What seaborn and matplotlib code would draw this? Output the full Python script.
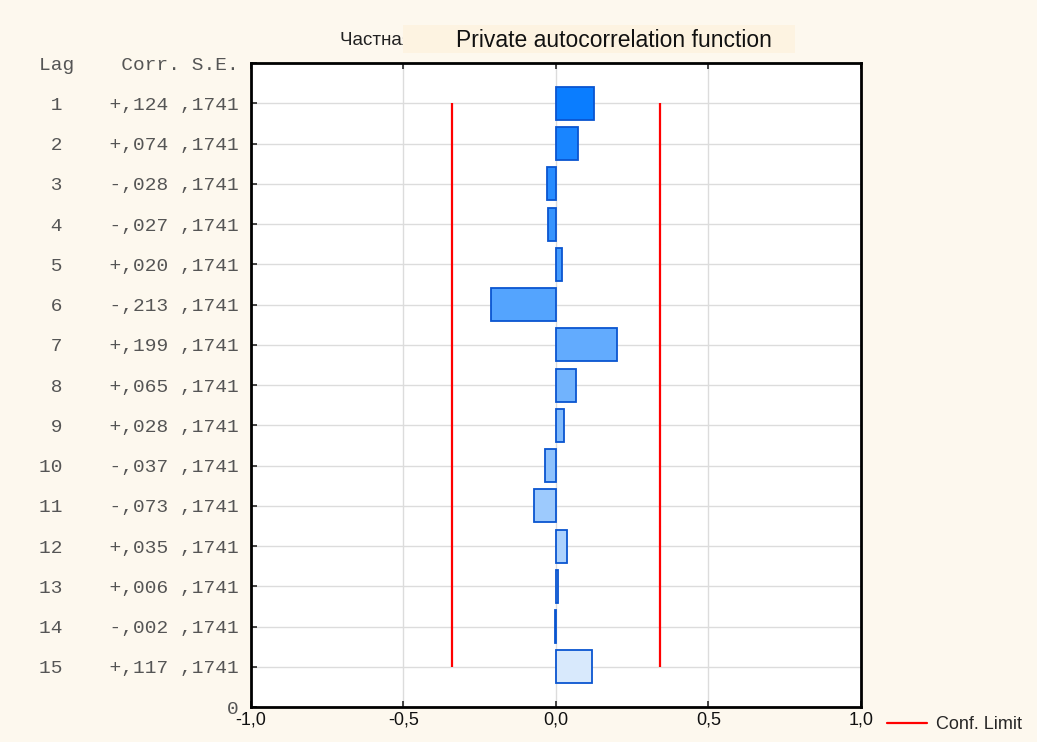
import pandas as pd
import seaborn as sns
import matplotlib.pyplot as plt
from matplotlib.lines import Line2D
from matplotlib.patches import Rectangle

# data
lags = list(range(1, 16))
corr = [0.124, 0.074, -0.028, -0.027, 0.020, -0.213, 0.199, 0.065,
        0.028, -0.037, -0.073, 0.035, 0.006, -0.002, 0.117]
se = [0.1741] * 15
conf_limit = 0.3412
x_ticks = [-1.0, -0.5, 0.0, 0.5, 1.0]
x_tick_labels = ["-1,0", "-0,5", "0,0", "0,5", "1,0"]

df = pd.DataFrame({"lag": lags, "corr": corr, "se": se})

bg = "#fdf8ee"
sns.set_style("white")
plt.rcParams["font.family"] = ["Liberation Sans", "DejaVu Sans"]

fig = plt.figure(figsize=(10.37, 7.42), dpi=100, facecolor=bg)
ax = fig.add_axes([0.242, 0.047, 0.588, 0.868])
ax.set_facecolor("white")

pal = sns.blend_palette(["#0a7dff", "#d8e9fc"], len(lags))
sns.barplot(data=df, x="corr", y="lag", hue="lag", palette=pal, saturation=1,
            orient="h", native_scale=True, width=0.82, legend=False,
            edgecolor="#0a55d0", linewidth=1.3, ax=ax, zorder=3)

ax.vlines([-conf_limit, conf_limit], 1, 15, color="red", lw=1.6, zorder=4)

ax.set_xlim(-1.0, 1.0)
ax.set_ylim(16, 0)

# row labels like the statistica table
def fmt(v, sign=True):
    s = f"{abs(v):.3f}".lstrip("0").replace(".", ",")
    return (("+" if v >= 0 else "-") + s) if sign else s

row_labels = ["Lag    Corr. S.E."]
for lag, c, s in zip(lags, corr, se):
    row_labels.append(f"{lag:>2}    {fmt(c)} {f'{s:.4f}'.lstrip('0').replace('.', ',')}")
row_labels.append("0")
ax.set_yticks(range(0, 17))
ax.set_yticklabels(row_labels, family="Liberation Mono", fontsize=14, color="#555555")
ax.set_xticks(x_ticks)
ax.set_xticklabels(x_tick_labels, fontsize=13, color="#111111")
ax.tick_params(axis="y", direction="in", length=4, width=1.2, pad=9, left=True)
ax.tick_params(axis="x", direction="in", length=4, width=1.2, pad=3, top=True, bottom=True)
ax.grid(True, color="#dcdcdc", lw=1, zorder=0)
ax.set_axisbelow(True)
for sp in ax.spines.values():
    sp.set_color("black")
    sp.set_linewidth(2)

ax.set_xlabel("")
ax.set_ylabel("")

# title partly covered by the translated caption
fig.text(0.328, 0.946, "Частная автокорреляционная функция", ha="left", va="center",
         fontsize=13.5, color="#222222")
fig.patches.append(Rectangle((0.3886, 0.9286), 0.378, 0.0377, transform=fig.transFigure,
                             facecolor="#fdf3e1", edgecolor="none", zorder=5))
fig.text(0.592, 0.946, "Private autocorrelation function", ha="center", va="center",
         fontsize=16.5, color="#111111", zorder=6)

# legend
h = Line2D([], [], color="red", lw=1.6)
fig.legend([h], ["Conf. Limit"], loc="lower left", bbox_to_anchor=(0.84, -0.01),
           frameon=False, fontsize=13, handlelength=2.2, handletextpad=0.5)

fig.savefig("out.png", dpi=100, facecolor=bg)
